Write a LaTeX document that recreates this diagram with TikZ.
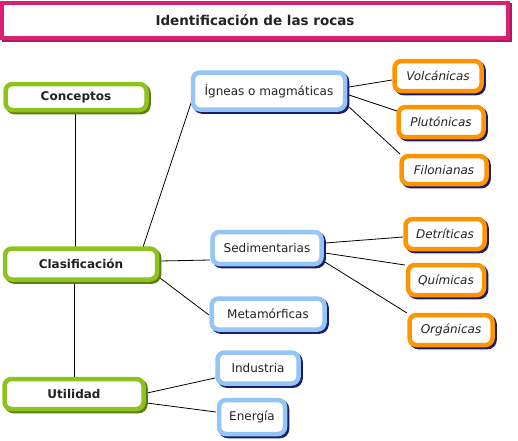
\documentclass[tikz,border=0pt]{standalone}
\usepackage{fontspec}
\setmainfont{DejaVu Sans}
\usetikzlibrary{calc}
\pgfdeclarelayer{bg}
\pgfsetlayers{bg,main}
\definecolor{gr}{HTML}{8DC21F}
\definecolor{grsh}{HTML}{5C7D12}
\definecolor{bl}{HTML}{94C5F7}
\definecolor{or}{HTML}{FF9400}
\definecolor{navy}{HTML}{1C1C6E}
\definecolor{pk}{HTML}{DA1F74}
\definecolor{pksh}{HTML}{B01860}
\definecolor{txt}{HTML}{222222}
\tikzset{
  box/.style 2 args={draw=#1, line width=4.5pt, rounded corners=7pt, fill=white, text=txt,
    inner sep=0pt, font=\fontsize{12}{14}\selectfont,
    preaction={draw=#2, line width=4.5pt, transform canvas={xshift=2pt,yshift=-2pt}}},
  grbox/.style={box={gr}{grsh}, font=\fontsize{12}{14}\selectfont\bfseries},
  blbox/.style={box={bl}{navy}},
  orbox/.style={box={or}{navy}, font=\fontsize{12}{14}\selectfont\itshape},
  tbox/.style={box={pk}{pksh}, rounded corners=0pt, font=\fontsize{13.5}{16}\selectfont\bfseries},
  link/.style={draw=black, line width=0.8pt}
}
\begin{document}
\begin{tikzpicture}[x=1pt,y=-1pt]
\useasboundingbox (0,0) rectangle (518,440);
\node[tbox, minimum width=506pt, minimum height=35pt] (title) at (255,20.5) {Identificación de las rocas};

\node[grbox, minimum width=141pt, minimum height=26pt] (conc) at (76,97) {Conceptos};
\node[grbox, minimum width=152pt, minimum height=31pt] (clas) at (81,264) {Clasificación};
\node[grbox, minimum width=139pt, minimum height=30pt] (util) at (74,394) {Utilidad};

\node[blbox, minimum width=152pt, minimum height=37pt] (ign) at (269,91) {Ígneas o magmáticas};
\node[blbox, minimum width=109pt, minimum height=32pt] (sed) at (267,248) {Sedimentarias};
\node[blbox, minimum width=113pt, minimum height=31pt] (meta) at (268,314) {Metamórficas};
\node[blbox, minimum width=81pt, minimum height=31pt] (ind) at (258,368) {Industria};
\node[blbox, minimum width=66pt, minimum height=34pt] (ener) at (252,417) {Energía};

\node[orbox, minimum width=87pt, minimum height=30pt] (volc) at (438,76) {Volcánicas};
\node[orbox, minimum width=85pt, minimum height=30pt] (plut) at (441,122) {Plutónicas};
\node[orbox, minimum width=85pt, minimum height=28pt] (filo) at (444,170) {Filonianas};
\node[orbox, minimum width=79pt, minimum height=30pt] (detr) at (445,234) {Detríticas};
\node[orbox, minimum width=76pt, minimum height=30pt] (quim) at (446,280) {Químicas};
\node[orbox, minimum width=83pt, minimum height=30pt] (org) at (451,330) {Orgánicas};

\begin{pgfonlayer}{bg}
\draw[link] ($(conc.center)+(-1,0)$) -- ($(clas.center)+(-6,0)$);
\draw[link] ($(clas.center)+(-7,0)$) -- ($(util.center)+(0,0)$);
\draw[link] ($(clas.center)+(62,-17)$) -- ($(ign.center)+(-77,9)$);
\draw[link] ($(clas.center)+(79,-3)$) -- ($(sed.center)+(-57,12)$);
\draw[link] ($(clas.center)+(79,14)$) -- ($(meta.center)+(-59,1)$);
\draw[link] ($(ign.center)+(80,-4)$) -- ($(volc.center)+(-46,4)$);
\draw[link] ($(ign.center)+(80,4)$) -- ($(plut.center)+(-44,-11)$);
\draw[link] ($(ign.center)+(79,15)$) -- ($(filo.center)+(-44,-16)$);
\draw[link] ($(sed.center)+(58,-5)$) -- ($(detr.center)+(-42,3)$);
\draw[link] ($(sed.center)+(58,5)$) -- ($(quim.center)+(-41,-15)$);
\draw[link] ($(sed.center)+(58,14)$) -- ($(org.center)+(-44,-17)$);
\draw[link] ($(util.center)+(73,-1)$) -- ($(ind.center)+(-43,10)$);
\draw[link] ($(util.center)+(73,9)$) -- ($(ener.center)+(-36,-5)$);
\end{pgfonlayer}
\end{tikzpicture}
\end{document}
